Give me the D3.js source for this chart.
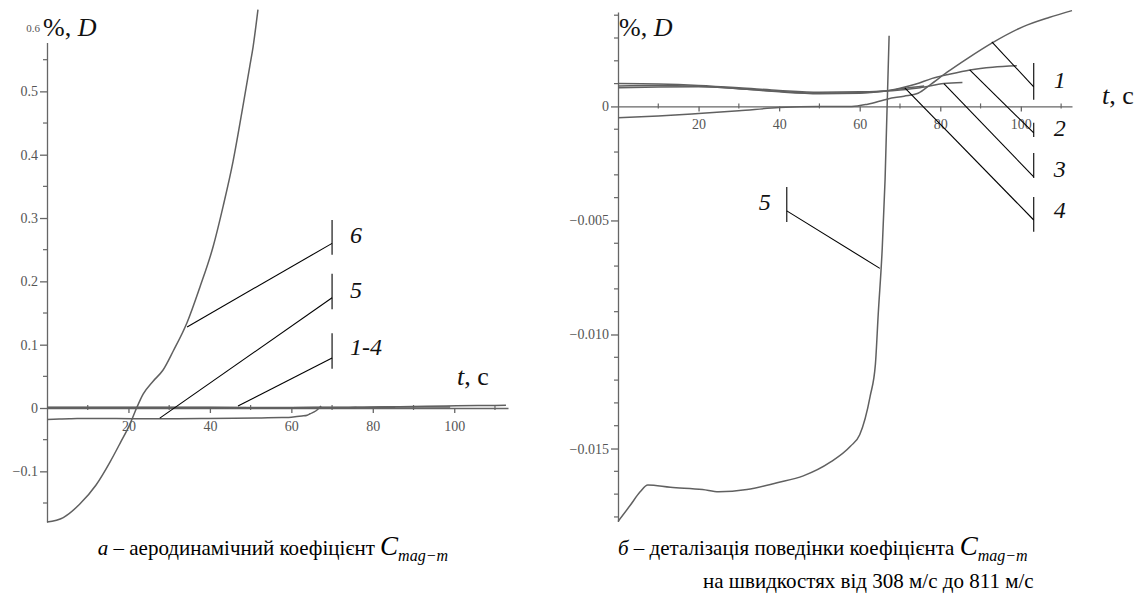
<!DOCTYPE html>
<html>
<head>
<meta charset="utf-8">
<style>
  body { margin: 0; background: #fff; }
  svg, svg text, svg g { font-family: 'Liberation Serif', 'DejaVu Serif', serif !important; }
  .tick text { fill: #555; font-size: 14px; }
  .domain, .tick line { stroke: #666; stroke-width: 1.3; }
  .curve { fill: none; stroke: #606060; stroke-width: 1.5; }
  .leader { stroke: #000; stroke-width: 1.1; fill: none; }
</style>
</head>
<body>
<div id="chart"></div>
<script src="https://d3js.org/d3.v7.min.js"></script>
<script>
'use strict';

var FONT = 'Liberation Serif, DejaVu Serif, serif';

// ---- data: [t (s), D (%)] ----
var curve1 = [[0,-0.0005],[10,-0.00042],[20,-0.00031],[30,-0.00019],[40,-0.00005],[50,0],[58,0],
  [62,0.0001],[67,0.00033],[71,0.00045],[74.5,0.00058],[77.5,0.00095],[81.7,0.0015],[86.7,0.0021],
  [93,0.0028],[100.6,0.0035],[107,0.0039],[112.7,0.0042]];
var curve2 = [[0,0.001],[10,0.00098],[20,0.00092],[30,0.00082],[40,0.0007],[50,0.00062],[60,0.00064],
  [66,0.00068],[70,0.0008],[74,0.00098],[78,0.00123],[82,0.0014],[87.4,0.0016],[93,0.00172],[99,0.00178]];
var curve3 = [[0,0.0009],[10,0.00092],[20,0.00088],[30,0.00078],[40,0.00066],[50,0.00058],[60,0.0006],
  [66,0.00066],[70,0.00072],[75,0.00082],[80.9,0.001],[85.5,0.00105]];
var curve4 = [[0,0.00082],[10,0.00085],[20,0.00086],[30,0.00078],[40,0.00064],[50,0.00056],[60,0.00058],
  [66,0.00066],[71.2,0.0008],[76,0.0009]];
var curve5 = [[0,-0.0182],[3,-0.0175],[5.5,-0.0169],[7.4,-0.0166],[13,-0.0167],[21,-0.0168],[25,-0.0169],
  [32,-0.0168],[39.5,-0.0165],[46,-0.0162],[52.7,-0.0156],[57.7,-0.0149],[60,-0.0144],[62.6,-0.0127],
  [63.9,-0.0113],[64.6,-0.0091],[65.6,-0.0062],[66.3,-0.0032],[67.3,0.0031]];
var curve6 = [[0,-0.18],[4,-0.173],[8,-0.152],[12,-0.122],[15.5,-0.085],[18,-0.055],[20.4,-0.025],[22,0],
  [23.6,0.022],[26,0.042],[28.5,0.06],[31,0.09],[34.4,0.135],[37.5,0.19],[40.8,0.255],[43.3,0.32],
  [45.7,0.39],[48.2,0.48],[49.8,0.54],[50.6,0.57],[51.8,0.629]];

var xTicks = [20, 40, 60, 80, 100];
var xMinor = [10, 30, 50, 70, 90, 110];
var yTicksL = [-0.1, 0, 0.1, 0.2, 0.3, 0.4, 0.5];
var yMinorL = [-0.15, -0.05, 0.05, 0.15, 0.25, 0.35, 0.45, 0.55];
var yTicksR = [-0.015, -0.01, -0.005, 0];
var yMinorR = d3.range(-18, 5).filter(function (k) { return k % 5 !== 0; }).map(function (k) { return k / 1000; });

// ---- layout ----
var svg = d3.select('#chart').append('svg').attr('width', 1141).attr('height', 595)
  .attr('font-family', FONT);

var xL = d3.scaleLinear().domain([0, 113.2]).range([47, 508]);
var yL = d3.scaleLinear().domain([-0.18, 0.577]).range([522, 42.6]);
var xR = d3.scaleLinear().domain([0, 112.7]).range([618, 1072]);
var yR = d3.scaleLinear().domain([-0.0182, 0.00414]).range([521.5, 12]);

var line = function (x, y) {
  return d3.line().x(function (d) { return x(d[0]); }).y(function (d) { return y(d[1]); }).curve(d3.curveMonotoneX);
};

function drawAxes(g, x, y, yTicks, yMinor, yFmt) {
  g.append('g').attr('transform', 'translate(0,' + y(0) + ')')
    .call(d3.axisBottom(x).tickValues(xTicks).tickSize(5).tickSizeOuter(0).tickPadding(8).tickFormat(d3.format('d')))
    .attr('font-family', FONT);
  g.append('g').attr('transform', 'translate(' + x(0) + ',0)')
    .call(d3.axisLeft(y).tickValues(yTicks).tickSize(7).tickSizeOuter(0).tickPadding(2).tickFormat(yFmt))
    .attr('font-family', FONT);
  g.append('g').selectAll('line').data(xMinor).join('line')
    .attr('x1', x).attr('x2', x).attr('y1', y(0) - 3).attr('y2', y(0) + 2)
    .attr('stroke', '#666').attr('stroke-width', 1.2);
  g.append('g').selectAll('line').data(yMinor).join('line')
    .attr('x1', x(0) - 4).attr('x2', x(0)).attr('y1', y).attr('y2', y)
    .attr('stroke', '#666').attr('stroke-width', 1.2);
}

function label(g, x, y, parts, size) {
  var t = g.append('text').attr('x', x).attr('y', y).attr('font-size', size).attr('fill', '#111');
  parts.forEach(function (p) {
    var s = t.append('tspan').text(p[0]);
    if (p[1]) s.attr('font-style', 'italic');
  });
  return t;
}

function leaders(g, x, y, list, anchor) {
  list.forEach(function (d) {
    g.append('line').attr('class', 'leader')
      .attr('x1', x(d.barT)).attr('x2', x(d.barT)).attr('y1', y(d.barV[0])).attr('y2', y(d.barV[1]));
    g.append('line').attr('class', 'leader')
      .attr('x1', x(d.barT)).attr('y1', y(d.fromV)).attr('x2', x(d.to[0])).attr('y2', y(d.to[1]));
    g.append('text').attr('x', x(d.barT) + d.dx).attr('y', y(d.labelV) + 8)
      .attr('font-size', 24).attr('font-style', 'italic').attr('fill', '#111')
      .attr('text-anchor', anchor).text(d.label);
  });
}

// ---- left panel ----
var gl = svg.append('g');
drawAxes(gl, xL, yL, yTicksL, yMinorL, function (d) { return d === 0 ? '0' : d3.format('.1f')(d); });
gl.append('text').attr('x', 40).attr('y', 32).attr('text-anchor', 'end')
  .attr('font-size', 11).attr('fill', '#555').text('0.6');
[curve1, curve2, curve3, curve4, curve5, curve6].forEach(function (c) {
  gl.append('path').attr('class', 'curve').attr('d', line(xL, yL)(c));
});
leaders(gl, xL, yL, [
  { label: '6', barT: 70, barV: [0.242, 0.297], fromV: 0.26, to: [34.4, 0.128], labelV: 0.273, dx: 18 },
  { label: '5', barT: 70, barV: [0.156, 0.212], fromV: 0.174, to: [27.7, -0.016], labelV: 0.186, dx: 18 },
  { label: '1-4', barT: 70, barV: [0.062, 0.118], fromV: 0.079, to: [46.9, 0.003], labelV: 0.096, dx: 18 }
], 'start');
label(gl, 43, 36, [['%, '], ['D', true]], 26);
label(gl, 457, 385, [['t', true], [', c']], 26);

// ---- right panel ----
var gr = svg.append('g');
drawAxes(gr, xR, yR, yTicksR, yMinorR, function (d) { return d === 0 ? '0' : d3.format('.3f')(d); });
[curve1, curve2, curve3, curve4, curve5].forEach(function (c) {
  gr.append('path').attr('class', 'curve').attr('d', line(xR, yR)(c));
});
leaders(gr, xR, yR, [
  { label: '1', barT: 103.2, barV: [0.00029, 0.0019], fromV: 0.00086, to: [92.8, 0.00283], labelV: 0.00118, dx: 20 },
  { label: '2', barT: 103.2, barV: [-0.00134, -0.00072], fromV: -0.00116, to: [87.3, 0.0016], labelV: -0.00093, dx: 20 },
  { label: '3', barT: 103.2, barV: [-0.00314, -0.00204], fromV: -0.00309, to: [80.9, 0.001], labelV: -0.00276, dx: 20 },
  { label: '4', barT: 103.2, barV: [-0.0055, -0.00397], fromV: -0.00498, to: [71.2, 0.00081], labelV: -0.00452, dx: 20 }
], 'start');
leaders(gr, xR, yR, [
  { label: '5', barT: 41.9, barV: [-0.00507, -0.00353], fromV: -0.00458, to: [65.0, -0.0071], labelV: -0.00418, dx: -16 }
], 'end');
label(gr, 619, 36, [['%, '], ['D', true]], 26);
label(gr, 1102, 104, [['t', true], [', c']], 26);

// ---- captions ----
function caption(x, y, anchor, parts) {
  var t = svg.append('text').attr('x', x).attr('y', y).attr('text-anchor', anchor)
    .attr('font-size', 21).attr('fill', '#000');
  parts.forEach(function (p) {
    var s = t.append('tspan').text(p.text);
    if (p.italic) s.attr('font-style', 'italic');
    if (p.size) s.attr('font-size', p.size);
    if (p.dy) s.attr('dy', p.dy);
  });
}
caption(448, 555, 'end', [
  { text: 'а', italic: true }, { text: ' –  аеродинамічний коефіцієнт ' },
  { text: 'C', italic: true, size: 27 }, { text: 'mag−m', italic: true, size: 16, dy: 6 }
]);
caption(618, 555, 'start', [
  { text: 'б', italic: true }, { text: ' – деталізація поведінки коефіцієнта ' },
  { text: 'C', italic: true, size: 27 }, { text: 'mag−m', italic: true, size: 16, dy: 6 }
]);
caption(703, 588, 'start', [{ text: 'на швидкостях від 308 м/с до 811 м/с' }]);
</script>
</body>
</html>
